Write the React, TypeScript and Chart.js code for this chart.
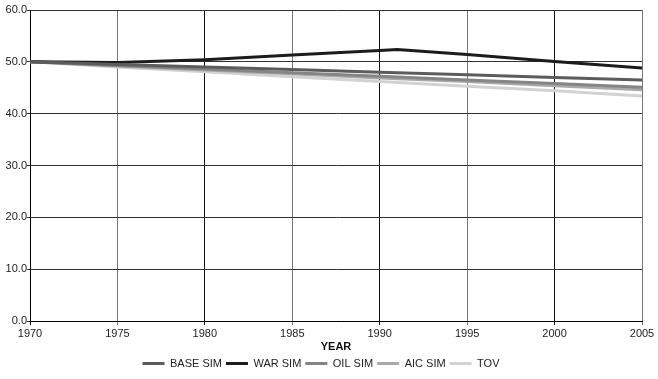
import React, { useEffect, useRef } from "react";
import { Chart, registerables } from "chart.js";

Chart.register(...registerables);

const years = [1970, 1975, 1980, 1985, 1990, 1995, 2000, 2005];
const warYears = [1970, 1975, 1980, 1985, 1990, 1991, 1995, 2000, 2005];

const baseSim = [50, 49.5, 49.0, 48.5, 48.0, 47.5, 47.0, 46.5];
const warSim = [50, 49.85, 50.4, 51.3, 52.2, 52.4, 51.4, 50.05, 48.8];
const oilSim = [50, 49.3, 48.6, 47.9, 47.2, 46.5, 45.8, 45.1];
const aicSim = [50, 49.2, 48.4, 47.7, 46.9, 46.2, 45.4, 44.6];
const tov = [50, 49.0, 48.1, 47.1, 46.2, 45.3, 44.4, 43.4];

const toXY = (xs: number[], ys: number[]) => xs.map((x, i) => ({ x, y: ys[i] }));

export default function App() {
  const ref = useRef<HTMLCanvasElement | null>(null);
  useEffect(() => {
    if (!ref.current) return;
    const font = { family: "'Liberation Sans', Arial, sans-serif", size: 11 };
    const mk = (label: string, xs: number[], ys: number[], color: string) => ({
      label,
      data: toXY(xs, ys),
      borderColor: color,
      backgroundColor: color,
      borderWidth: 3,
      pointRadius: 0,
      tension: 0,
      pointStyle: "line" as const,
    });
    const chart = new Chart(ref.current, {
      type: "line",
      data: {
        datasets: [
          mk("BASE SIM", years, baseSim, "#5c5c5c"),
          mk("WAR SIM", warYears, warSim, "#1c1c1c"),
          mk("OIL SIM", years, oilSim, "#858585"),
          mk("AIC SIM", years, aicSim, "#a9a9a9"),
          mk("TOV", years, tov, "#d2d2d2"),
        ],
      },
      options: {
        responsive: false,
        animation: false,
        layout: { padding: { top: 10, right: 16, left: 0, bottom: 0 } },
        plugins: {
          tooltip: { enabled: false },
          legend: {
            position: "bottom",
            labels: {
              font,
              color: "#222",
              usePointStyle: true,
              pointStyleWidth: 22,
              padding: 4,
            },
          },
        },
        scales: {
          x: {
            type: "linear",
            min: 1970,
            max: 2005,
            ticks: { stepSize: 5, font, color: "#222", padding: 2, callback: (v: any) => String(v) },
            grid: {
              color: (ctx: any) => (ctx.tick && ctx.tick.value % 10 === 0 ? "#111" : "#777"),
              lineWidth: 1,
              tickLength: 4,
            },
            border: { color: "#000", width: 1 },
            title: { display: true, text: "YEAR", font: { ...font, weight: "bold" }, color: "#111", padding: { top: 0, bottom: 0 } },
            afterFit: (s: any) => {
              s.height = 33;
            },
          },
          y: {
            min: 0,
            max: 60,
            ticks: { stepSize: 10, font, color: "#222", padding: 0, callback: (v: any) => Number(v).toFixed(1) },
            grid: { color: "#333", lineWidth: 1, tickLength: 3 },
            border: { color: "#000", width: 1 },
            afterFit: (s: any) => {
              s.width = 30;
            },
          },
        },
      } as any,
    });
    return () => chart.destroy();
  }, []);
  return (
    <div style={{ position: "absolute", left: 0, top: 0, width: 658, height: 379, background: "#fff" }}>
      <canvas ref={ref} width={658} height={379} />
    </div>
  );
}
